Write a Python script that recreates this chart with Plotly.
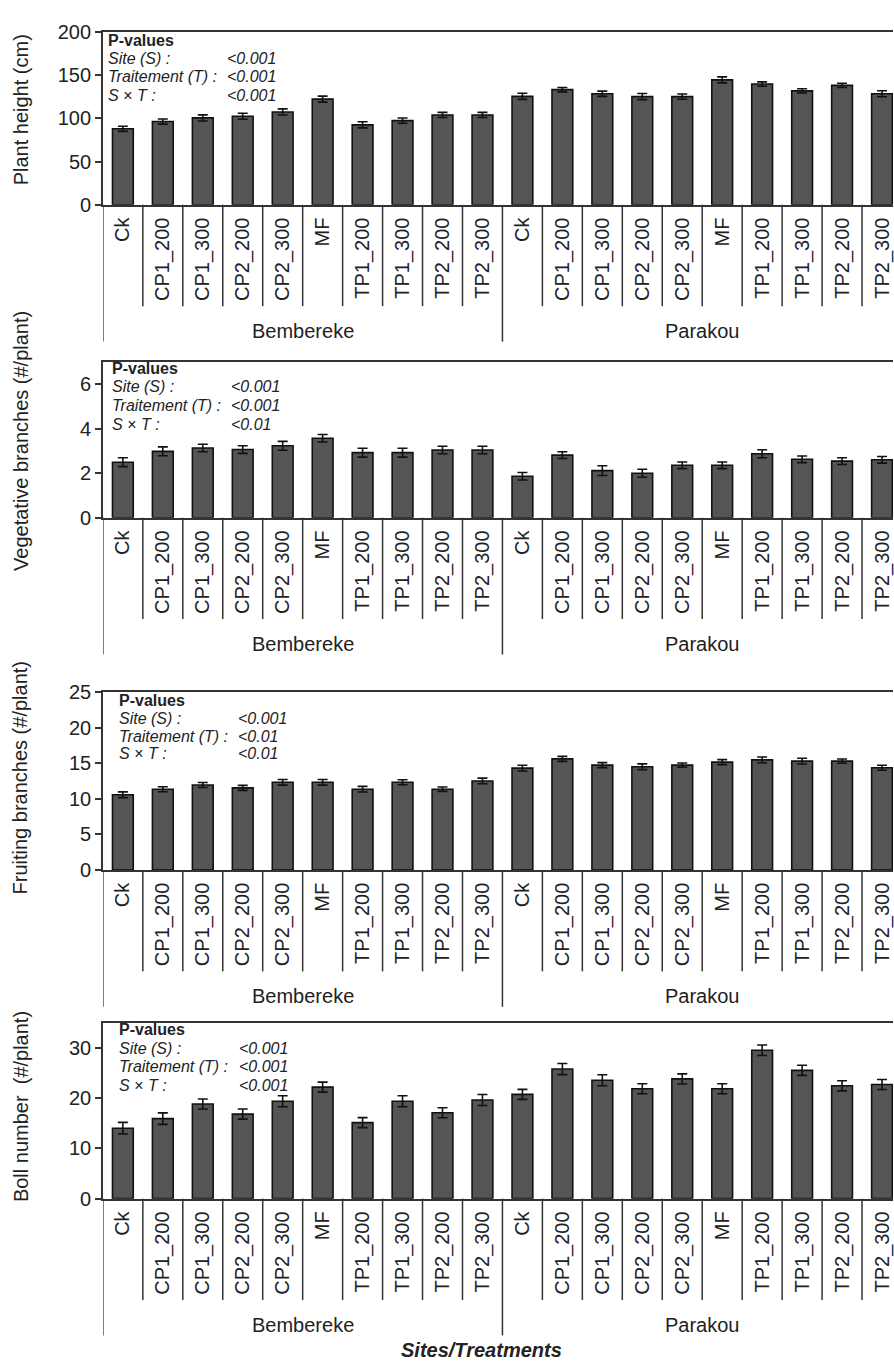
import plotly.graph_objects as go

# ---------------- data ----------------
treatments = ["Ck", "CP1_200", "CP1_300", "CP2_200", "CP2_300", "MF",
              "TP1_200", "TP1_300", "TP2_200", "TP2_300"]
sites = ["Bembereke", "Parakou"]

height_vals = [87.8, 96.2, 100.4, 102.3, 107.3, 122.1, 92.4, 97.3, 103.8, 103.8,
               125.3, 133.0, 128.3, 125.0, 125.0, 144.3, 139.5, 131.6, 138.0, 128.3]
height_err = [3, 3, 3.5, 3.5, 3.5, 3.5, 3.5, 3, 3, 3,
              3.5, 2.5, 3, 3.5, 3, 3.5, 2.5, 2.5, 2.5, 3.5]

veg_vals = [2.50, 2.99, 3.14, 3.07, 3.24, 3.58, 2.93, 2.93, 3.05, 3.05,
            1.87, 2.82, 2.12, 2.00, 2.36, 2.36, 2.88, 2.63, 2.55, 2.61]
veg_err = [0.2, 0.2, 0.17, 0.17, 0.2, 0.17, 0.2, 0.2, 0.17, 0.17,
           0.17, 0.15, 0.22, 0.18, 0.15, 0.15, 0.18, 0.15, 0.15, 0.15]

fruit_vals = [10.56, 11.34, 11.94, 11.53, 12.31, 12.31, 11.34, 12.31, 11.34, 12.5,
              14.3, 15.6, 14.72, 14.49, 14.72, 15.14, 15.46, 15.28, 15.28, 14.35]
fruit_err = [0.4, 0.35, 0.35, 0.35, 0.4, 0.4, 0.4, 0.35, 0.3, 0.4,
             0.4, 0.35, 0.35, 0.4, 0.3, 0.35, 0.4, 0.4, 0.3, 0.35]

boll_vals = [14.0, 15.9, 18.8, 16.8, 19.35, 22.16, 15.1, 19.35, 17.06, 19.6,
             20.72, 25.75, 23.53, 21.83, 23.79, 21.83, 29.48, 25.49, 22.42, 22.68]
boll_err = [1.15, 1.15, 1.0, 1.0, 1.1, 1.0, 1.0, 1.1, 1.0, 1.1,
            1.0, 1.1, 1.1, 1.0, 1.0, 1.0, 1.05, 1.0, 1.0, 1.0]

y_titles = ["Plant height (cm)", "Vegetative branches (#/plant)",
            "Fruiting branches (#/plant)", "Boll number\u00a0 (#/plant)"]
y_ranges = [[0, 200], [0, 7], [0, 25], [0, 35]]
y_ticks = [[0, 50, 100, 150, 200], [0, 2, 4, 6], [0, 5, 10, 15, 20, 25], [0, 10, 20, 30]]

pv_labels = ["Site (S) :", "Traitement (T) :", "S \u00d7 T :"]
pv_values = [["<0.001", "<0.001", "<0.001"],
             ["<0.001", "<0.001", "<0.01"],
             ["<0.001", "<0.01", "<0.01"],
             ["<0.001", "<0.001", "<0.001"]]

x_title = "Sites/Treatments"

# ---------------- layout geometry (pixels) ----------------
W, H = 894, 1371
LEFT = 103
panels_px = [(21, 197), (357, 515), (692, 873), (1028, 1207)]
ytitle_center = [100, 437, 779, 1113]
pv_pos = [(106, 30, 225), (110, 363, 229), (117, 701, 236), (117, 1035, 237)]
pv_step = [18.5, 19, 18, 19]

def py(p):
    return 1 - p / H

def pxp(p):
    return p / W

FONT = "Liberation Sans, Arial, sans-serif"
TXT = "#222222"
LINE = "#333333"

series_vals = [height_vals, veg_vals, fruit_vals, boll_vals]
series_err = [height_err, veg_err, fruit_err, boll_err]

n = len(treatments) * len(sites)
xs = list(range(n))
tick_text = treatments * len(sites)
x_hi = -0.5 + (W - LEFT) / 40.0

fig = go.Figure()
shapes = []
annotations = []

for k in range(4):
    xa = "x" if k == 0 else f"x{k+1}"
    ya = "y" if k == 0 else f"y{k+1}"
    fig.add_trace(go.Bar(
        x=xs, y=series_vals[k], xaxis=xa, yaxis=ya,
        width=0.52,
        marker=dict(color="#555555", line=dict(color="#111111", width=1.6)),
        error_y=dict(type="data", array=series_err[k], visible=True,
                     color="#111111", thickness=1.6, width=5),
        showlegend=False,
    ))
    top, bot = panels_px[k]
    dom = [py(bot), py(top)]
    xkey = "xaxis" if k == 0 else f"xaxis{k+1}"
    ykey = "yaxis" if k == 0 else f"yaxis{k+1}"
    fig.update_layout(**{
        xkey: dict(domain=[pxp(LEFT), 1], anchor=ya, range=[-0.5, x_hi],
                   tickmode="array", tickvals=xs, ticktext=tick_text,
                   tickangle=-90, ticks="", showgrid=False, zeroline=False,
                   showline=True, mirror=True, linecolor=LINE, linewidth=1.5,
                   tickfont=dict(family=FONT, size=20, color=TXT),
                   ticklabelstandoff=3, ticklabeloverflow="allow"),
        ykey: dict(domain=dom, anchor=xa, range=y_ranges[k],
                   tickmode="array", tickvals=y_ticks[k], ticks="outside",
                   ticklen=6, tickwidth=1.5, tickcolor=LINE,
                   showgrid=False, zeroline=False, showline=True,
                   linecolor=LINE, linewidth=1.5,
                   tickfont=dict(family=FONT, size=20, color=TXT)),
    })
    # separators below the axis
    short_len = 103
    long_len = 139
    for b in range(n):
        xb = b - 0.5
        is_long = (b % len(treatments) == 0)
        L = long_len if is_long else short_len
        shapes.append(dict(type="line", xref=xa, yref="paper",
                           x0=xb, x1=xb, y0=py(bot), y1=py(bot + L),
                           line=dict(color=LINE, width=1.5)))
    # site labels
    for s, site in enumerate(sites):
        annotations.append(dict(
            xref=xa, yref="paper", x=s * len(treatments) + (len(treatments) - 1) / 2,
            y=py(bot + 128), text=site, showarrow=False, xanchor="center",
            yanchor="middle", font=dict(family=FONT, size=20, color=TXT)))
    # y titles
    annotations.append(dict(
        xref="paper", yref="paper", x=pxp(21), y=py(ytitle_center[k]),
        text=y_titles[k], textangle=-90, showarrow=False,
        xanchor="center", yanchor="middle",
        font=dict(family=FONT, size=20, color=TXT)))
    # P-values box
    x0p, y0p, xv = pv_pos[k]
    annotations.append(dict(
        xref="paper", yref="paper", x=pxp(x0p), y=py(y0p),
        text="<b>P-values</b>", showarrow=False, xanchor="left", yanchor="middle",
        font=dict(family=FONT, size=16, color=TXT)))
    for j in range(3):
        yy = y0p + pv_step[k] * (j + 1)
        annotations.append(dict(
            xref="paper", yref="paper", x=pxp(x0p), y=py(yy),
            text=f"<i>{pv_labels[j]}</i>", showarrow=False, xanchor="left",
            yanchor="middle", font=dict(family=FONT, size=16, color=TXT)))
        annotations.append(dict(
            xref="paper", yref="paper", x=pxp(xv), y=py(yy),
            text=f"<i>{pv_values[k][j].replace('<', '&lt;')}</i>", showarrow=False,
            xanchor="left", yanchor="middle",
            font=dict(family=FONT, size=16, color=TXT)))

annotations.append(dict(
    xref="paper", yref="paper", x=pxp(482), y=py(1361),
    text=f"<b><i>{x_title}</i></b>", showarrow=False,
    xanchor="center", yanchor="middle",
    font=dict(family=FONT, size=20, color=TXT)))

fig.update_layout(
    width=W, height=H, margin=dict(l=0, r=0, t=0, b=0),
    paper_bgcolor="white", plot_bgcolor="white",
    shapes=shapes, annotations=annotations, bargap=0.5,
)

fig.write_html(
    "out.html",
    config={"displayModeBar": False},
    post_script="document.body.style.margin='0';document.body.style.overflow='hidden';"
                "document.documentElement.style.overflow='hidden';",
)
